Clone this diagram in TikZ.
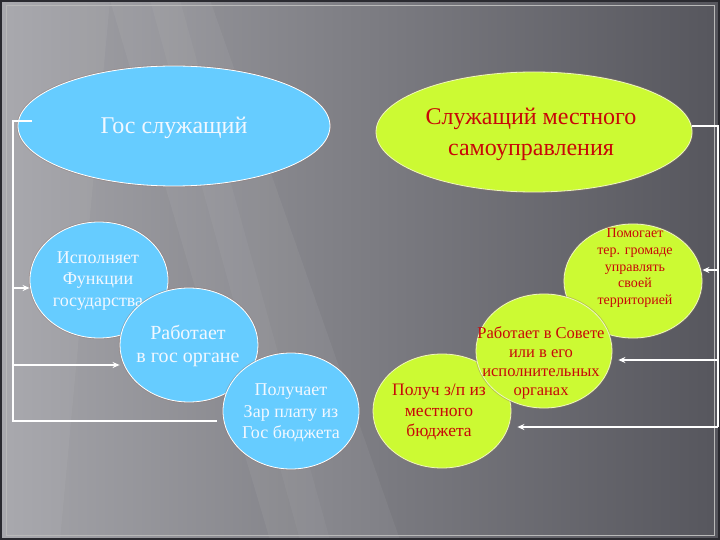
\documentclass[tikz,border=0pt]{standalone}
\usepackage{fontspec}
\setmainfont{Liberation Serif}
\usetikzlibrary{shapes.geometric,arrows.meta}
\definecolor{bluefill}{RGB}{102,204,255}
\definecolor{limefill}{RGB}{204,250,51}
\definecolor{redtxt}{RGB}{200,8,8}
\definecolor{bluetxt}{RGB}{242,248,255}
\definecolor{bgL}{RGB}{165,165,170}
\definecolor{bgM}{RGB}{110,110,116}
\definecolor{bgR}{RGB}{86,86,93}
\definecolor{framec}{RGB}{42,42,48}
\definecolor{halo}{RGB}{150,118,108}
\definecolor{limeedge}{RGB}{236,248,190}
\tikzset{
  ellbase/.style={ellipse, inner sep=0pt, line width=0.8pt,
    preaction={draw=halo, line width=2.5pt, opacity=0.4}},
  blueell/.style={ellbase, fill=bluefill, draw=white},
  limeell/.style={ellbase, fill=limefill, draw=limeedge},
  btext/.style={text=bluetxt, align=center, inner sep=0pt},
  rtext/.style={text=redtxt, align=center, inner sep=0pt},
  wline/.style={draw=white, line width=1.5pt},
  warr/.style={wline, -{Stealth[length=7pt,width=6pt]}}
}
\begin{document}
\begin{tikzpicture}[x=1pt,y=-1pt]
\useasboundingbox (0,0) rectangle (720,540);
% background
\shade[left color=bgL, middle color=bgM, right color=bgR] (0,0) rectangle (720,540);
\fill[white, opacity=0.05] (110,0) -- (210,0) -- (400,540) -- (270,540) -- cycle;
\fill[white, opacity=0.04] (150,0) -- (180,0) -- (330,540) -- (300,540) -- cycle;
\fill[white, opacity=0.05] (0,0) -- (110,0) -- (60,540) -- (0,540) -- cycle;
\draw[framec, line width=4pt] (0,0) rectangle (720,540);
\draw[gray!55, line width=0.6pt] (6,5) rectangle (714,535);

% left (blue) group
\node[blueell, minimum width=312pt, minimum height=120pt] (gos) at (174,126) {};
\node[btext, font=\fontsize{24}{31}\selectfont] (gost) at (174,128) {Гос служащий};

\node[blueell, minimum width=138pt, minimum height=116pt] (isp) at (99,280) {};
\node[btext, font=\fontsize{18}{21.5}\selectfont] (ispt) at (98,281) {Исполняет\\Функции\\государства};

\node[blueell, minimum width=138pt, minimum height=114pt] (rab) at (189,345) {};
\node[btext, font=\fontsize{20}{23}\selectfont] (rabt) at (188,346) {Работает\\в гос органе};

\node[blueell, minimum width=136pt, minimum height=116pt] (pol) at (291,411) {};
\node[btext, font=\fontsize{18}{21.5}\selectfont] (polt) at (291,413) {Получает\\Зар плату из\\Гос бюджета};

% right (lime) group
\node[limeell, minimum width=316pt, minimum height=120pt] (sam) at (534,132) {};
\node[rtext, font=\fontsize{24}{31}\selectfont] (samt) at (531,134) {Служащий местного\\самоуправления};

\node[limeell, minimum width=138pt, minimum height=114pt] (pom) at (633,281) {};
\node[rtext, font=\fontsize{14}{16.8}\selectfont] (pomt) at (635,268) {Помогает\\тер. громаде\\управлять\\своей\\территорией};

\node[limeell, minimum width=138pt, minimum height=114pt] (zp) at (442,411) {};
\node[rtext, font=\fontsize{17.5}{20.5}\selectfont] (zpt) at (439,412) {Получ з/п из\\местного\\бюджета};

\node[limeell, minimum width=136pt, minimum height=114pt] (sov) at (544,351) {};
\node[rtext, font=\fontsize{16.5}{19}\selectfont] (sovt) at (541,363) {Работает в Совете\\или в его\\исполнительных\\органах};

% left connectors
\coordinate (gtip) at (32,121);
\coordinate (lt) at (13,121);
\coordinate (lb) at (13,421);
\coordinate (lend) at (217,421);
\coordinate (la) at (13,288);
\coordinate (lr) at (13,365);
\draw[wline] (gtip) -- (lt) -- (lb) -- (lend);
\draw[warr] (la) -- (la -| isp.west);
\draw[warr] (lr) -- (lr -| rab.west);

% right connectors
\coordinate (rt) at (718,126);
\coordinate (rb) at (718,427);
\coordinate (ra) at (718,270);
\coordinate (rs) at (718,360);
\draw[wline] (sam.east |- rt) -- (rt) -- (rb);
\draw[warr] (ra) -- (ra -| pom.east);
\draw[warr, shorten >=6pt] (rs) -- (rs -| sov.east);
\draw[warr, shorten >=6pt] (rb) -- (rb -| zp.east);
\end{tikzpicture}
\end{document}
